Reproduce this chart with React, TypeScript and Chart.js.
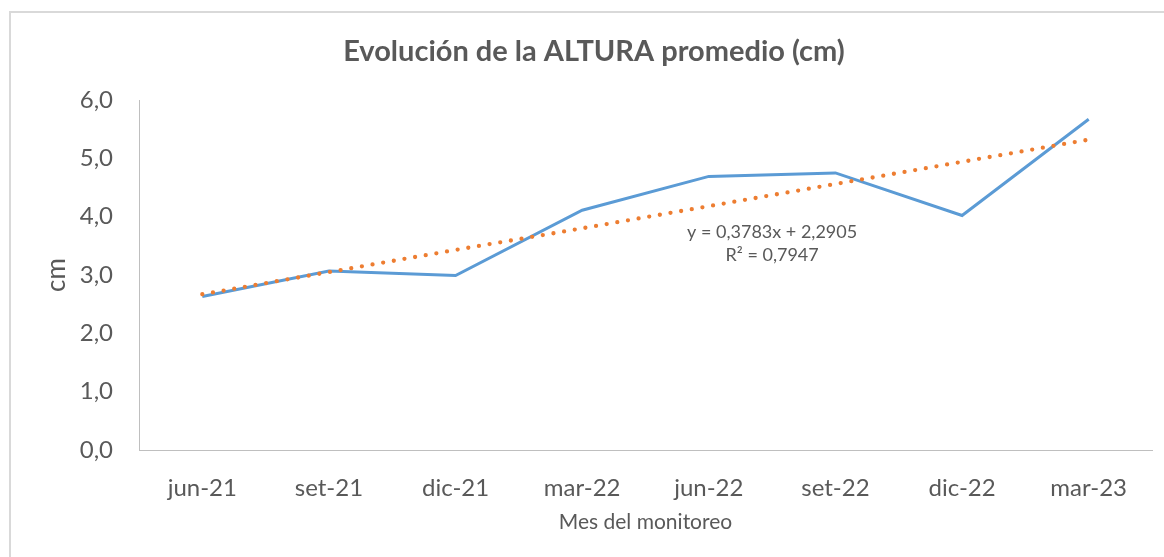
import React, { useEffect, useRef } from "react";
import { Chart, registerables } from "chart.js";

Chart.register(...registerables);

// ---- Data ----
const monthLabels = ["jun-21", "set-21", "dic-21", "mar-22", "jun-22", "set-22", "dic-22", "mar-23"];
const alturaValues = [2.63, 3.07, 2.99, 4.11, 4.69, 4.75, 4.02, 5.67];
const trendValues = [2.67, 3.05, 3.43, 3.8, 4.18, 4.56, 4.94, 5.32];
const yTickValues = [0, 1, 2, 3, 4, 5, 6];

const titleText = "Evolución de la ALTURA promedio (cm)";
const xAxisTitle = "Mes del monitoreo";
const yAxisTitle = "cm";
const trendEquation = "y = 0,3783x + 2,2905";
const trendR2 = "R² = 0,7947";

const FONT = "Lato, 'Open Sans', sans-serif";
const TEXT = "#595959";
const BLUE = "#5B9BD5";
const ORANGE = "#ED7D31";
const AXIS = "#BFBFBF";

const overlay = {
  id: "overlay",
  beforeDraw(chart: any) {
    const { ctx, width, height } = chart;
    ctx.save();
    ctx.fillStyle = "#ffffff";
    ctx.fillRect(0, 0, width, height);
    ctx.strokeStyle = "#D9D9D9";
    ctx.lineWidth = 2;
    ctx.strokeRect(10, 12, width + 20, height + 20);
    ctx.restore();
  },
  afterDraw(chart: any) {
    const { ctx, scales } = chart;
    ctx.save();
    ctx.fillStyle = TEXT;
    ctx.textAlign = "center";
    ctx.textBaseline = "middle";
    ctx.font = `bold 29px ${FONT}`;
    ctx.fillText(titleText, 594, 52);

    const x = scales.x.getPixelForValue(4.5);
    ctx.font = `18px ${FONT}`;
    ctx.fillText(trendEquation, x, scales.y.getPixelForValue(3.74));
    ctx.fillText(trendR2, x, scales.y.getPixelForValue(3.34));
    ctx.restore();
  },
};

export default function App() {
  const canvasRef = useRef<HTMLCanvasElement | null>(null);

  useEffect(() => {
    if (!canvasRef.current) return;
    const chart = new Chart(canvasRef.current, {
      type: "line",
      data: {
        labels: monthLabels,
        datasets: [
          {
            label: "Altura promedio",
            data: alturaValues,
            borderColor: BLUE,
            backgroundColor: BLUE,
            borderWidth: 3,
            pointRadius: 0,
            tension: 0,
            order: 2,
          },
          {
            label: "Tendencia",
            data: trendValues,
            borderColor: ORANGE,
            backgroundColor: ORANGE,
            borderWidth: 4.3,
            borderDash: [0, 10.8],
            borderCapStyle: "round",
            pointRadius: 0,
            tension: 0,
            order: 1,
          },
        ],
      },
      options: {
        animation: false,
        responsive: false,
        layout: { padding: { top: 100, left: 0, right: 12, bottom: 0 } },
        plugins: {
          legend: { display: false },
          title: { display: false },
          tooltip: { enabled: false },
        },
        scales: {
          x: {
            offset: true,
            grid: { display: false, drawTicks: false },
            border: { display: true, color: AXIS, width: 1 },
            ticks: { color: TEXT, font: { family: FONT, size: 24 }, padding: 24, maxRotation: 0 },
            title: {
              display: true,
              text: xAxisTitle,
              color: TEXT,
              font: { family: FONT, size: 21 },
              padding: { top: 0, bottom: 22 },
            },
            afterFit(scale: any) {
              scale.height = 107;
            },
          },
          y: {
            min: 0,
            max: 6,
            grid: { display: false, drawTicks: false },
            border: { display: true, color: AXIS, width: 1 },
            afterBuildTicks(scale: any) {
              scale.ticks = yTickValues.map((v) => ({ value: v }));
            },
            ticks: {
              color: TEXT,
              font: { family: FONT, size: 24 },
              padding: 26,
              callback: (v: any) => Number(v).toFixed(1).replace(".", ","),
            },
            title: {
              display: true,
              text: yAxisTitle,
              color: TEXT,
              font: { family: FONT, size: 26 },
              padding: { top: 41, bottom: 0 },
            },
            afterFit(scale: any) {
              scale.width = 139;
            },
          },
        },
      },
      plugins: [overlay],
    });
    return () => chart.destroy();
  }, []);

  return (
    <div style={{ position: "fixed", left: 0, top: 0, width: 1164, height: 557 }}>
      <canvas ref={canvasRef} width={1164} height={557} />
    </div>
  );
}
